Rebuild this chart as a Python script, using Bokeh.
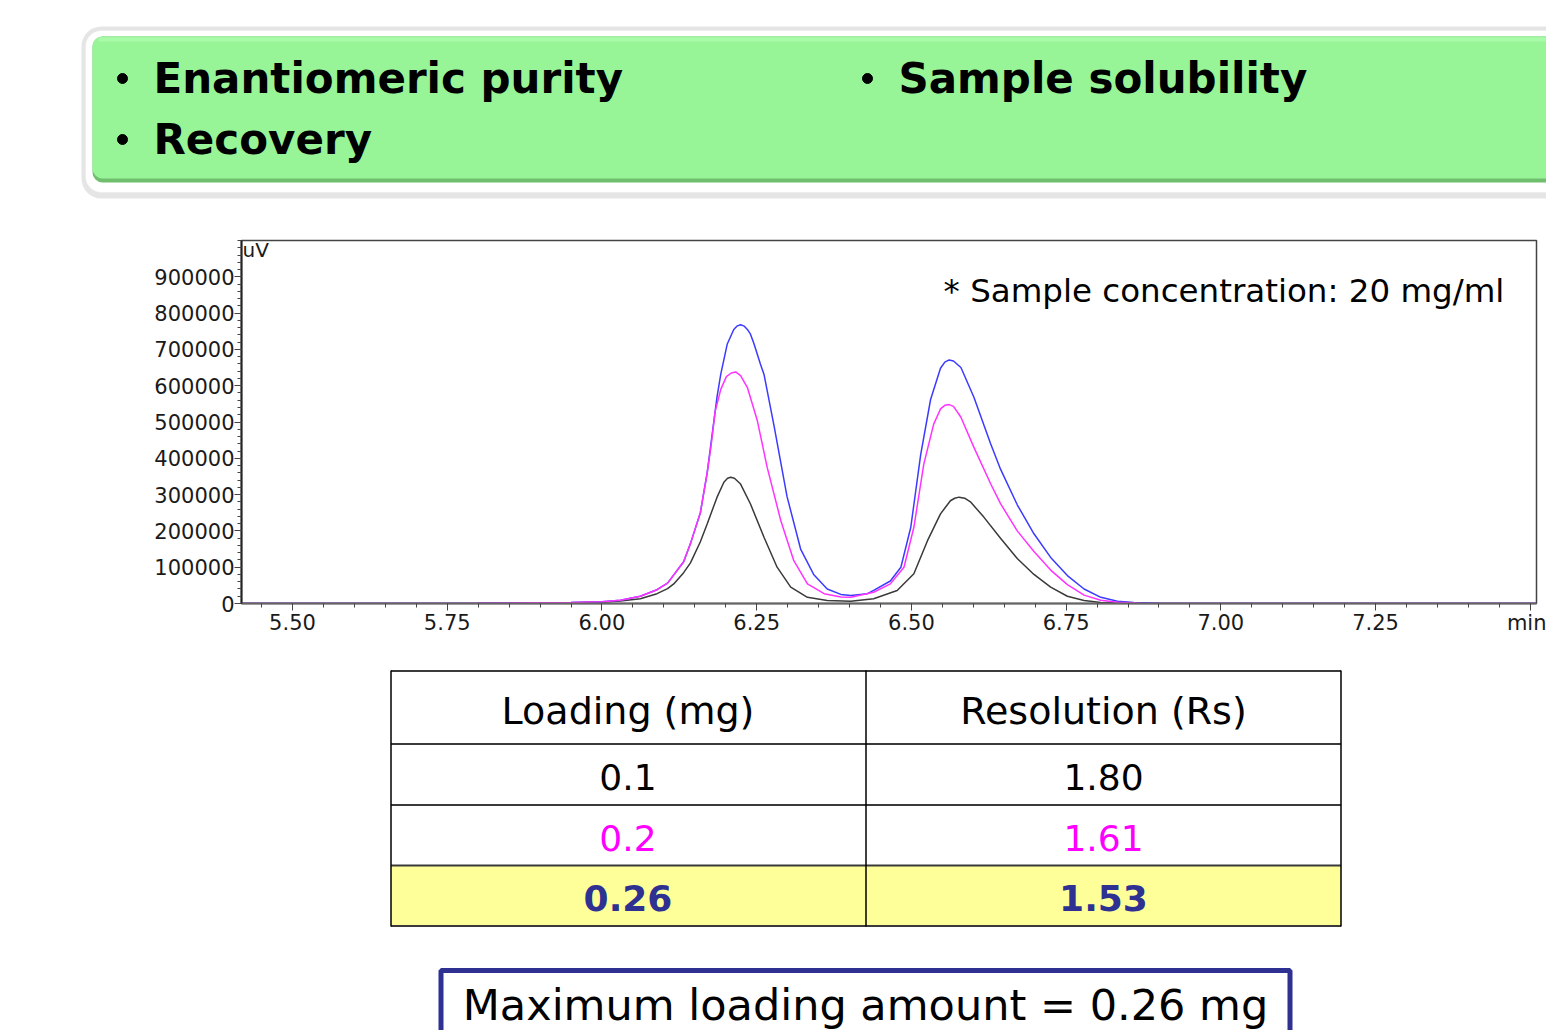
from bokeh.plotting import figure
from bokeh.layouts import column
from bokeh.models import (Range1d, FixedTicker, Label, BoxAnnotation,
                          NumeralTickFormatter, PrintfTickFormatter)
from bokeh.core.properties import value
from bokeh.embed import file_html
from bokeh.resources import INLINE

FONT = "DejaVu Sans"

# ---------------- data ----------------
bullets_left = ["Enantiomeric purity", "Recovery"]
bullets_right = ["Sample solubility"]

# chromatogram (retention time in min, signal in uV)
rt_black = [5.42, 5.80, 5.95, 6.00, 6.030, 6.062, 6.089, 6.106, 6.116, 6.132, 6.143, 6.159,
            6.170, 6.186, 6.197, 6.203, 6.208, 6.214, 6.224, 6.240, 6.262, 6.283, 6.305,
            6.332, 6.364, 6.402, 6.439, 6.477, 6.504, 6.526, 6.547, 6.563, 6.570, 6.577,
            6.586, 6.596, 6.617, 6.644, 6.671, 6.698, 6.725, 6.752, 6.779, 6.806, 6.85,
            6.95, 7.51]
uv_black = [0, 500, 2000, 3500, 7000, 13000, 27000, 41000, 54000, 85000, 112000, 170000,
            219000, 293000, 334000, 345000, 348000, 345000, 329000, 274000, 182000, 100000,
            45000, 17000, 8000, 6000, 13000, 36000, 82000, 173000, 247000, 283000, 290000,
            293000, 290000, 279000, 238000, 180000, 124000, 80000, 45000, 20000, 8000, 3000,
            1000, 0, 0]

rt_magenta = [5.42, 5.80, 5.95, 6.00, 6.030, 6.062, 6.089, 6.106, 6.132, 6.143, 6.159, 6.170,
              6.176, 6.183, 6.192, 6.201, 6.209, 6.216, 6.224, 6.235, 6.251, 6.267, 6.289,
              6.310, 6.332, 6.359, 6.386, 6.402, 6.439, 6.466, 6.488, 6.504, 6.520, 6.536,
              6.547, 6.554, 6.561, 6.568, 6.580, 6.601, 6.628, 6.644, 6.671, 6.698, 6.725,
              6.752, 6.779, 6.806, 6.833, 6.87, 7.00, 7.51]
uv_magenta = [0, 1000, 3000, 5000, 9000, 20000, 38000, 56000, 115000, 165000, 250000, 360000,
              430000, 530000, 590000, 625000, 635000, 638000, 628000, 595000, 504000, 375000,
              228000, 118000, 54000, 27000, 18000, 17000, 31000, 54000, 100000, 210000, 384000,
              494000, 536000, 546000, 548000, 543000, 513000, 430000, 330000, 275000, 200000,
              143000, 92000, 52000, 23000, 9000, 3500, 1000, 0, 0]

rt_blue = [5.42, 5.80, 5.95, 6.00, 6.030, 6.062, 6.089, 6.106, 6.132, 6.143, 6.159, 6.170,
           6.186, 6.192, 6.2025, 6.213, 6.218, 6.224, 6.230, 6.235, 6.240, 6.2455, 6.256,
           6.262, 6.278, 6.299, 6.321, 6.342, 6.364, 6.386, 6.402, 6.429, 6.439, 6.466,
           6.483, 6.499, 6.515, 6.531, 6.547, 6.554, 6.561, 6.568, 6.580, 6.601, 6.628,
           6.644, 6.671, 6.698, 6.725, 6.752, 6.779, 6.806, 6.833, 6.859, 6.90, 7.00, 7.51]
uv_blue = [0, 1000, 3000, 5000, 9000, 20000, 38000, 56000, 115000, 165000, 250000, 360000,
           570000, 632000, 715000, 755000, 764000, 768000, 764000, 755000, 742000, 716000,
           660000, 630000, 490000, 295000, 150000, 80000, 40000, 25000, 22000, 27000, 36000,
           62000, 100000, 210000, 410000, 562000, 648000, 665000, 671000, 668000, 650000,
           568000, 440000, 370000, 272000, 192000, 127000, 77000, 40000, 17000, 6000, 2500,
           800, 0, 0]

x_major = [5.50, 5.75, 6.00, 6.25, 6.50, 6.75, 7.00, 7.25, 7.50]
y_major = [0, 100000, 200000, 300000, 400000, 500000, 600000, 700000, 800000, 900000]
sample_note = "* Sample concentration: 20 mg/ml"

table_header = ["Loading (mg)", "Resolution (Rs)"]
loading_mg = [0.1, 0.2, 0.26]
resolution_rs = [1.80, 1.61, 1.53]
max_loading_mg = 0.26

# ---------------- layout constants ----------------
W = 1546
H_TOP = 225
H_CHART = 430
H_BOT = 1030 - H_TOP - H_CHART
NAVY = "#2E3192"


def deco_fig(h):
    f = figure(width=W, height=h, x_range=Range1d(0, W), y_range=Range1d(0, h),
               output_backend="svg", toolbar_location=None, min_border=0,
               x_axis_location=None, y_axis_location=None, title=None)
    f.frame_align = False
    f.grid.visible = False
    f.outline_line_color = None
    f.background_fill_color = "white"
    f.border_fill_color = "white"
    return f


# ---------------- top: green box ----------------
top = deco_fig(H_TOP)


def ty(py):
    return H_TOP - py


def box(**kw):
    top.add_layout(BoxAnnotation(level="underlay", **kw))


box(left=81, right=W + 40, top=ty(26), bottom=ty(198), fill_color="#000000",
    fill_alpha=0.10, line_color=None, border_radius=20)
box(left=85, right=W + 40, top=ty(30), bottom=ty(192), fill_color="white", fill_alpha=1,
    line_color="#e6e6e6", line_width=1, border_radius=16)
box(left=92, right=W + 40, top=ty(36), bottom=ty(182), fill_color="#6fbf6f", fill_alpha=1,
    line_color=None, border_radius=10)
box(left=92, right=W + 40, top=ty(36), bottom=ty(178), fill_color="#97F597", fill_alpha=1,
    line_color=None, border_radius=10)
box(left=98, right=W + 40, top=ty(37), bottom=ty(41), fill_color="#a9faa9", fill_alpha=1,
    line_color=None)

bul_x = [122, 122, 867]
bul_y = [ty(78), ty(139), ty(78)]
top.scatter(bul_x, bul_y, size=10, color="black")
# y below = vertical centre of the capitals
for txt, x, mid in [(bullets_left[0], 153, 78), (bullets_left[1], 153, 139),
                    (bullets_right[0], 898, 78)]:
    top.add_layout(Label(x=x, y=ty(mid), text=txt, text_font=FONT,
                         text_font_style="bold", text_font_size="42px",
                         text_color="black", text_baseline="alphabetic",
                         text_align="left"))

# ---------------- middle: chromatogram ----------------
chart = figure(width=W, height=H_CHART, x_range=Range1d(5.4176, 7.51),
               y_range=Range1d(0, 1_000_000), output_backend="svg",
               toolbar_location=None, title=None,
               min_border_left=241, min_border_right=10,
               min_border_top=15, min_border_bottom=52)
chart.frame_align = False
chart.grid.visible = False
chart.outline_line_color = "#444444"
chart.outline_line_width = 1.5
chart.background_fill_color = "white"
chart.border_fill_color = "white"

chart.line(rt_black, uv_black, line_color="#3a3a3a", line_width=1.5)
chart.line(rt_blue, uv_blue, line_color="#3b3bff", line_width=1.5)
chart.line(rt_magenta, uv_magenta, line_color="#ff33ff", line_width=1.5)

xa = chart.xaxis[0]
xa.ticker = FixedTicker(ticks=x_major,
                        minor_ticks=[round(5.45 + 0.05 * i, 2) for i in range(42)])
xa.formatter = PrintfTickFormatter(format="%.2f")
xa.major_label_overrides = {7.5: "min"}
xa.axis_line_color = "#666666"
xa.axis_line_width = 2

ya = chart.yaxis[0]
ya.ticker = FixedTicker(ticks=y_major,
                        minor_ticks=[20000 * i for i in range(51)])
ya.formatter = NumeralTickFormatter(format="0")
ya.axis_line_color = "#222222"
ya.axis_line_width = 2

for ax, standoff in [(xa, 0), (ya, 0)]:
    ax.major_tick_in = 0
    ax.major_tick_out = 7
    ax.minor_tick_in = 0
    ax.minor_tick_out = 4
    ax.major_tick_line_color = "#444444"
    ax.minor_tick_line_color = "#444444"
    ax.major_label_text_font = FONT
    ax.major_label_text_font_size = "21px"
    ax.major_label_text_color = "#1a1a1a"
    ax.major_label_standoff = standoff

PX_UV = 1_000_000 / 363   # signal per screen pixel inside the frame
chart.add_layout(Label(x=5.4176, y=(603 - 249) * PX_UV, x_offset=1,
                       text="uV", text_font=FONT, text_font_size="20px",
                       text_color="#1a1a1a", text_align="left",
                       text_baseline="alphabetic"))
chart.add_layout(Label(x=6.552, y=(603 - 290) * PX_UV, text=sample_note,
                       text_font=FONT, text_font_size="32.5px", text_color="black",
                       text_align="left", text_baseline="alphabetic"))

# ---------------- bottom: table + result box ----------------
bot = deco_fig(H_BOT)


def by(py):
    return 1030 - py


tab_l, tab_m, tab_r = 390.5, 865.5, 1340.5
row_lines = [670.5, 743.5, 804.5, 865, 925.5]

bot.quad(left=[tab_l], right=[tab_r], top=[by(865)], bottom=[by(925.5)],
         fill_color="#FFFF99", line_color=None)
bot.segment(x0=[tab_l] * len(row_lines), x1=[tab_r] * len(row_lines),
            y0=[by(v) for v in row_lines], y1=[by(v) for v in row_lines],
            line_color="#3a3a3a", line_width=2)
bot.segment(x0=[tab_l, tab_m, tab_r], x1=[tab_l, tab_m, tab_r],
            y0=[by(670)] * 3, y1=[by(926)] * 3, line_color="black", line_width=1.5)

col_x = [627.5, 1103]
bot.text(x=col_x, y=[by(710)] * 2, text=table_header, text_font=value(FONT),
         text_font_size="38px", text_color="black", text_align="center",
         text_baseline="alphabetic")

row_mid = [776, 837, 897]
row_colors = ["black", "#FF00FF", NAVY]
row_styles = ["normal", "normal", "bold"]
for i in range(len(loading_mg)):
    cells = [f"{loading_mg[i]:g}", f"{resolution_rs[i]:.2f}"]
    bot.text(x=col_x, y=[by(row_mid[i])] * 2, text=cells, text_font=value(FONT),
             text_font_size="36px", text_color=row_colors[i],
             text_font_style=row_styles[i], text_align="center",
             text_baseline="alphabetic")

bot.quad(left=[440.5], right=[1289.5], top=[by(970)], bottom=[by(1045)],
         fill_color="white", line_color=NAVY, line_width=5)
bot.text(x=[865], y=[by(1004)], text=[f"Maximum loading amount = {max_loading_mg:g} mg"],
         text_font=value(FONT), text_font_size="43px", text_color="black",
         text_align="center", text_baseline="alphabetic")

layout = column(top, chart, bot, spacing=0)
open("out.html", "w").write(file_html(layout, INLINE))
